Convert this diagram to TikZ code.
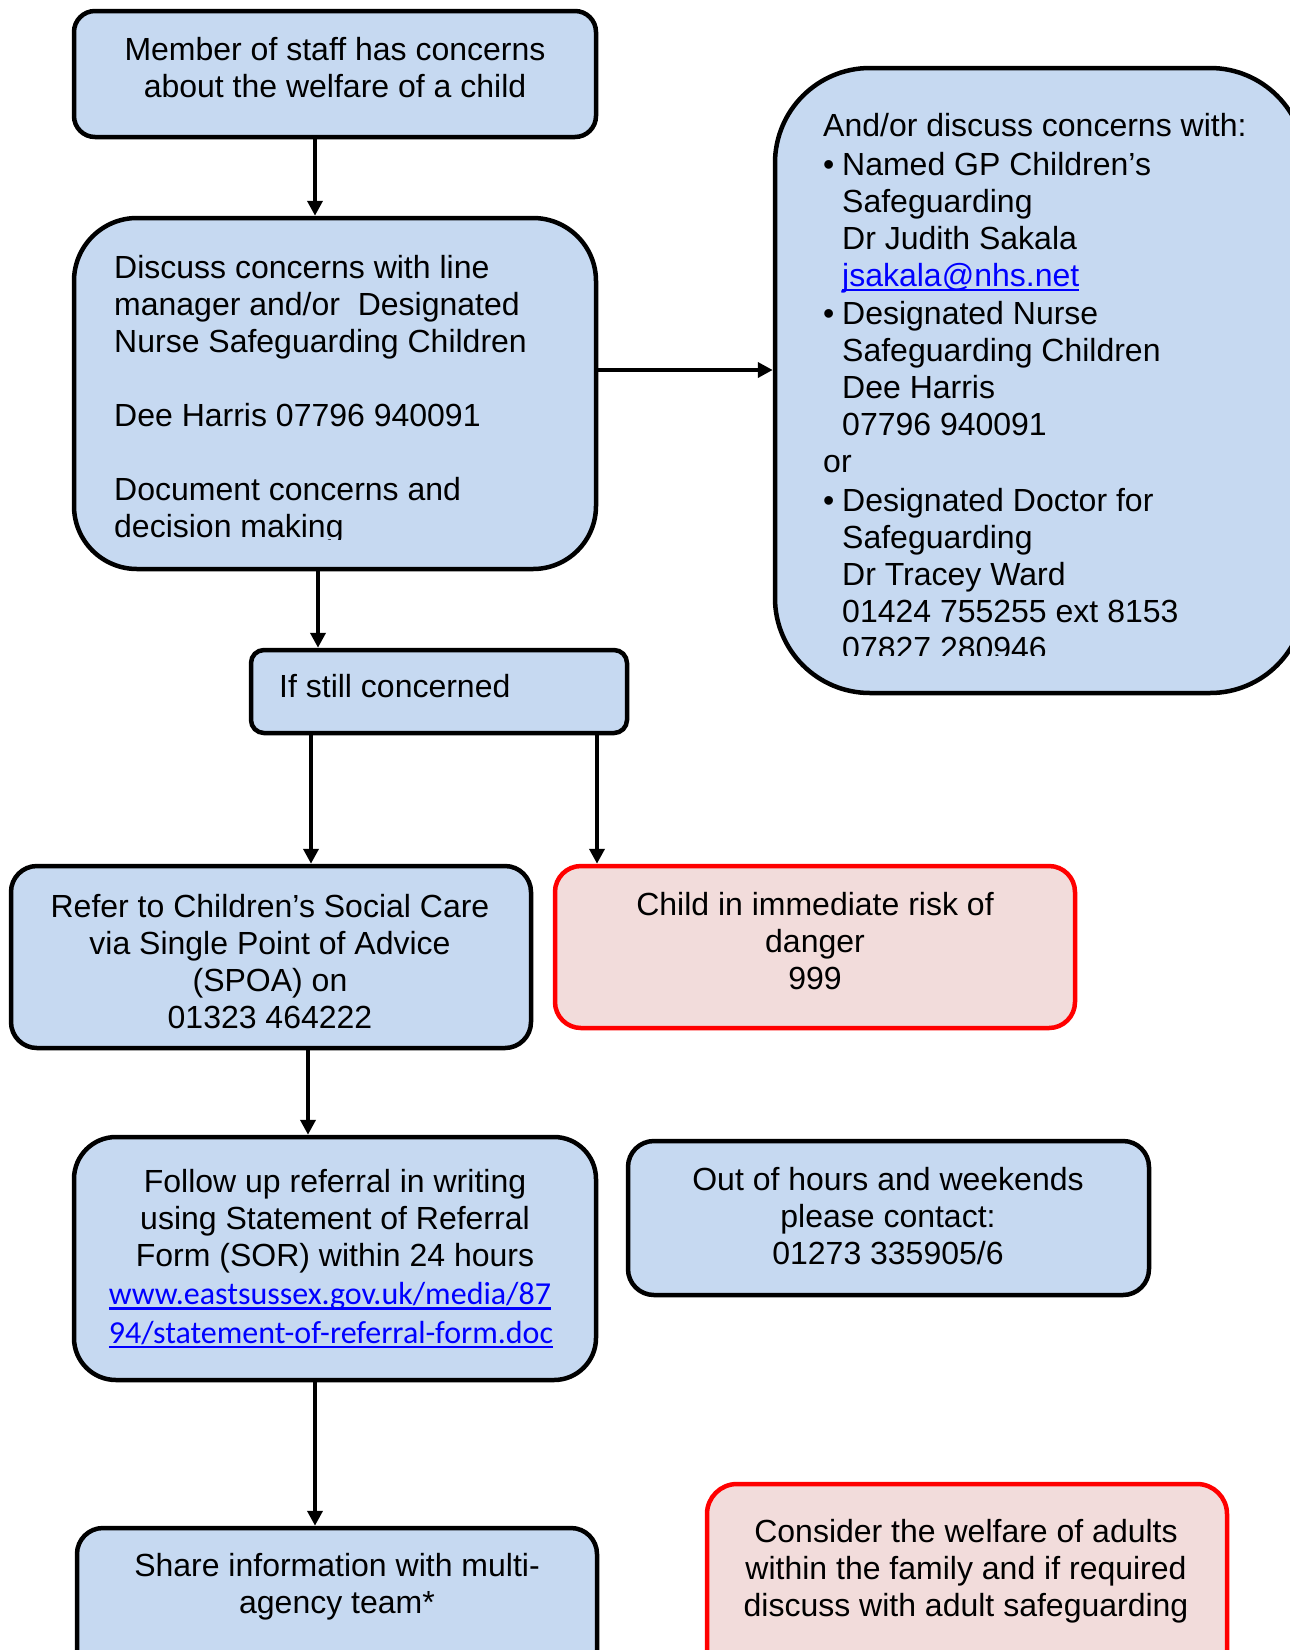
\documentclass[tikz,border=0pt]{standalone}
\usepackage{fontspec}
\setmainfont{Liberation Sans}
\newfontfamily\calfont{Carlito}
\usetikzlibrary{arrows.meta}
\definecolor{boxblue}{HTML}{C6D9F1}
\definecolor{boxpink}{HTML}{F2DCDB}
\definecolor{boxred}{HTML}{FF0000}
\definecolor{linkblue}{HTML}{0000FF}
\newcommand{\lnk}[1]{\setbox0=\hbox{#1}\rlap{\rule[-5pt]{\wd0}{2.5pt}}\box0}
\newcommand{\bul}{\makebox[19pt][l]{•}}
\newcommand{\ind}{\hspace*{19pt}}
\begin{document}
\begin{tikzpicture}[x=1pt,y=-1pt,
  bx/.style={draw=black, line width=4.5pt, fill=boxblue, rectangle, inner sep=0pt},
  rbx/.style={draw=boxred, line width=4.5pt, fill=boxpink, rectangle, inner sep=0pt},
  txt/.style={font=\fontsize{32}{37}\selectfont, inner sep=0pt, execute at begin node=\strut},
  arr/.style={line width=4pt, -{Triangle[length=15pt,width=15pt]}}]
\clip (0,0) rectangle (1290,1650);
% boxes
\node[bx, minimum width=522pt, minimum height=126pt, rounded corners=21pt] (b1) at (335,74) {};
\node[bx, minimum width=522pt, minimum height=351pt, rounded corners=63pt] (b2) at (335,393.5) {};
\node[bx, minimum width=530pt, minimum height=625pt, rounded corners=95pt] (b3) at (1040,380.5) {};
\node[bx, minimum width=376pt, minimum height=83pt, rounded corners=13pt] (b4) at (439,691.5) {};
\node[bx, minimum width=520pt, minimum height=182pt, rounded corners=26pt] (b5) at (271,957) {};
\node[rbx, minimum width=520pt, minimum height=162pt, rounded corners=26pt] (b6) at (815,947) {};
\node[bx, minimum width=522pt, minimum height=243pt, rounded corners=42pt] (b7) at (335,1258.5) {};
\node[bx, minimum width=521pt, minimum height=154pt, rounded corners=26pt] (b8) at (888.5,1218) {};
\node[bx, minimum width=520pt, minimum height=152pt, rounded corners=26pt] (b9) at (337,1604) {};
\node[rbx, minimum width=520pt, minimum height=196pt, rounded corners=30pt] (b10) at (967,1582) {};
% texts
\node[txt, align=center, anchor=north] (t1) at (335,37) {Member of staff has concerns\\about the welfare of a child};
\begin{scope}
\clip (0,0) rectangle (1290,539);
\node[txt, align=left, anchor=north west] (t2) at (114,255.5) {Discuss concerns with line\\manager and/or \ Designated\\Nurse Safeguarding Children\\[37pt]Dee Harris 07796 940091\\[37pt]Document concerns and\\decision making};
\end{scope}
\begin{scope}
\clip (0,0) rectangle (1290,655);
\node[txt, align=left, anchor=north west] (t3) at (823,113.5) {And/or discuss concerns with:\\[1.5pt]
\bul Named GP Children’s\\
\ind Safeguarding\\
\ind Dr Judith Sakala\\
\ind {\color{linkblue}\lnk{jsakala@nhs.net}}\\[1.5pt]
\bul Designated Nurse\\
\ind Safeguarding Children\\
\ind Dee Harris\\
\ind 07796 940091\\
or\\[1.5pt]
\bul Designated Doctor for\\
\ind Safeguarding\\
\ind Dr Tracey Ward\\
\ind 01424 755255 ext 8153\\
\ind 07827 280946};
\end{scope}
\node[txt, anchor=north west] (t4) at (279,671) {If still concerned};
\node[txt, align=center, anchor=north] (t5) at (270,894.5) {Refer to Children’s Social Care\\via Single Point of Advice\\(SPOA) on\\01323 464222};
\node[txt, align=center, anchor=north] (t6) at (815,892.5) {Child in immediate risk of\\danger\\999};
\node[txt, align=center, anchor=north] (t7) at (335,1169.5) {Follow up referral in writing\\using Statement of Referral\\Form (SOR) within 24 hours\\[1pt]\hbox{\calfont\color{linkblue}\lnk{www.eastsussex.gov.uk/media/87}\kern10pt}\\[1.5pt]\hbox{\calfont\color{linkblue}\lnk{94/statement-of-referral-form.doc}\kern8pt}};
\node[txt, align=center, anchor=north] (t8) at (888,1167.5) {Out of hours and weekends\\please contact:\\01273 335905/6};
\node[txt, align=center, anchor=north] (t9) at (337,1553.5) {Share information with multi-\\agency team*};
\node[txt, align=center, anchor=north] (t10) at (966,1519.5) {Consider the welfare of adults\\within the family and if required\\discuss with adult safeguarding};
% arrows
\draw[arr] ([xshift=-20pt]b1.south) -- ([xshift=-20pt]b1.south |- b2.north);
\draw[arr] ([yshift=23.5pt]b2.east) -- ([yshift=23.5pt]b2.east -| b3.west);
\draw[arr] ([xshift=-17pt]b2.south) -- ([xshift=-17pt]b2.south |- b4.north);
\draw[arr] ([xshift=-128pt]b4.south) -- ([xshift=-128pt]b4.south |- b5.north);
\draw[arr] ([xshift=158pt]b4.south) -- ([xshift=158pt]b4.south |- b6.north);
\draw[arr] ([xshift=37pt]b5.south) -- ([xshift=37pt]b5.south |- b7.north);
\draw[arr] ([xshift=-20pt]b7.south) -- ([xshift=-20pt]b7.south |- b9.north);
\end{tikzpicture}
\end{document}
